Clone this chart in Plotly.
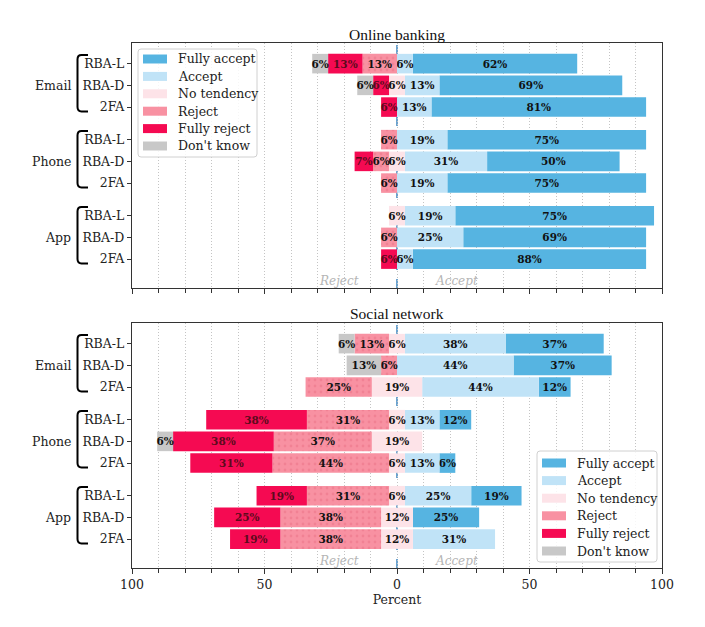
import plotly.graph_objects as go

# ---------------- data ----------------
groups = ["Email", "Phone", "App"]
methods = ["RBA-L", "RBA-D", "2FA"]
categories = ["Fully accept", "Accept", "No tendency", "Reject", "Fully reject", "Don't know"]

# rows: Email (RBA-L, RBA-D, 2FA), Phone (...), App (...)
ob_fully_accept = [62, 69, 81, 75, 50, 75, 75, 69, 88]
ob_accept       = [6, 13, 13, 19, 31, 19, 19, 25, 6]
ob_no_tendency  = [0, 6, 0, 0, 6, 0, 6, 0, 0]
ob_reject       = [13, 0, 0, 6, 6, 6, 0, 6, 0]
ob_fully_reject = [13, 6, 6, 0, 7, 0, 0, 0, 6]
ob_dont_know    = [6, 6, 0, 0, 0, 0, 0, 0, 0]

sn_fully_accept = [37, 37, 12, 12, 0, 6, 19, 25, 0]
sn_accept       = [38, 44, 44, 13, 0, 13, 25, 0, 31]
sn_no_tendency  = [6, 0, 19, 6, 19, 6, 6, 12, 12]
sn_reject       = [13, 6, 25, 31, 37, 44, 31, 38, 38]
sn_fully_reject = [0, 0, 0, 38, 38, 31, 19, 25, 19]
sn_dont_know    = [6, 13, 0, 0, 6, 0, 0, 0, 0]

x_tick_vals = [-100, -50, 0, 50, 100]
x_tick_text = ["100", "50", "0", "50", "100"]

# ---------------- styles ----------------
colors = {
    "Fully accept": "#56b4e1",
    "Accept": "#c0e3f7",
    "No tendency": "#fde3e8",
    "Reject": "#f891a2",
    "Fully reject": "#f50a52",
    "Don't know": "#c8c8c8",
}
SERIF = "DejaVu Serif"
TITLE_FONT = "Liberation Serif"
GRID = "#c4c4c4"
GRID_DASH = "1px,2px"

W, H = 705, 627
ML, MR, MT, MB = 132, 43, 43, 59
PW = W - ML - MR
PH = H - MT - MB


def px_x(p):
    return (p - ML) / PW


def px_y(p):
    return (H - MB - p) / PH


row_pos = []
for gi in range(len(groups)):
    for mi in range(len(methods)):
        row_pos.append(gi * 3.5 + mi)

fig = go.Figure()


def add_panel(vals, xa, ya):
    fa, ac, nt, rj, fr, dk = vals
    half = [v / 2 for v in nt]
    b_nt = [-h for h in half]
    b_rj = [-h - r for h, r in zip(half, rj)]
    b_fr = [b - f for b, f in zip(b_rj, fr)]
    b_dk = [b - d for b, d in zip(b_fr, dk)]
    b_ac = half[:]
    b_fa = [h + a for h, a in zip(half, ac)]
    spec = [
        ("Fully accept", fa, b_fa),
        ("Accept", ac, b_ac),
        ("No tendency", nt, b_nt),
        ("Reject", rj, b_rj),
        ("Fully reject", fr, b_fr),
        ("Don't know", dk, b_dk),
    ]
    for name, v, b in spec:
        marker = dict(color=colors[name], line=dict(width=0))
        if name == "Reject":
            marker["pattern"] = dict(shape=".", fgcolor="#e97286", size=6, solidity=0.18)
        tcol = "#5c0a1c" if name == "Fully reject" else "#111111"
        fig.add_trace(go.Bar(
            x=v, base=b, y=row_pos, orientation="h", width=0.9,
            name=name, showlegend=False, marker=marker,
            text=[f"{x}%" if x > 0 else "" for x in v],
            textposition="inside", insidetextanchor="middle",
            textangle=0, constraintext="none", cliponaxis=False,
            textfont=dict(family=SERIF, size=10.5, color=tcol, weight="bold"),
            xaxis=xa, yaxis=ya, hoverinfo="skip",
        ))


add_panel([ob_fully_accept, ob_accept, ob_no_tendency, ob_reject, ob_fully_reject, ob_dont_know], "x", "y")
add_panel([sn_fully_accept, sn_accept, sn_no_tendency, sn_reject, sn_fully_reject, sn_dont_know], "x2", "y2")

YR = [10.33, -0.95]
top_dom = [(PH - 245) / PH, 1.0]
bot_dom = [0.0, 245 / PH]

xcommon = dict(
    range=[-100, 100], tickmode="array", tickvals=x_tick_vals, ticktext=x_tick_text,
    showgrid=True, gridcolor=GRID, griddash=GRID_DASH, gridwidth=1,
    zeroline=False, showline=True, linecolor="#333333", linewidth=1.3, mirror=True,
    ticks="outside", ticklen=5, tickcolor="#333333", tickwidth=1.2,
    tickfont=dict(family=SERIF, size=12.5, color="#222"),
    minor=dict(tickmode="linear", tick0=0, dtick=10, showgrid=True, gridcolor=GRID,
               griddash=GRID_DASH, gridwidth=1, ticks="outside", ticklen=4, tickcolor="#333333"),
    fixedrange=True,
)
ycommon = dict(
    range=YR, tickmode="array", tickvals=row_pos, ticktext=methods * 3,
    showgrid=False, zeroline=False, showline=True, linecolor="#333333", linewidth=1.3,
    mirror=True, ticks="outside", ticklen=4, tickcolor="#333333",
    tickfont=dict(family=SERIF, size=12.5, color="#222"),
)

fig.update_layout(
    width=W, height=H, margin=dict(l=ML, r=MR, t=MT, b=MB),
    paper_bgcolor="white", plot_bgcolor="white",
    barmode="overlay", showlegend=False,
    xaxis=dict(**xcommon, anchor="y", domain=[0, 1], showticklabels=False),
    yaxis=dict(**ycommon, anchor="x", domain=top_dom),
    xaxis2=dict(**xcommon, anchor="y2", domain=[0, 1],
                title=dict(text="Percent", font=dict(family=SERIF, size=12.5, color="#222"), standoff=4)),
    yaxis2=dict(**ycommon, anchor="x2", domain=bot_dom),
    font=dict(family=SERIF, color="#222"),
)

shapes = []
annotations = []

# center dashed line
for ya in ["y", "y2"]:
    shapes.append(dict(type="line", xref="x" if ya == "y" else "x2", yref=f"{ya} domain",
                       x0=0, x1=0, y0=0, y1=1, layer="below",
                       line=dict(color="#3d85c0", width=1.5, dash="dash")))

# titles
annotations.append(dict(text="Online banking", xref="paper", yref="paper", x=0.5, y=px_y(34),
                        showarrow=False, font=dict(family=TITLE_FONT, size=15.5, color="#111"),
                        yanchor="middle"))
annotations.append(dict(text="Social network", xref="paper", yref="paper", x=0.5, y=px_y(313),
                        showarrow=False, font=dict(family=TITLE_FONT, size=15.5, color="#111"),
                        yanchor="middle"))

# reject / accept hints
for xa, ya in [("x", "y"), ("x2", "y2")]:
    annotations.append(dict(text="<i>Reject</i>", xref=xa, yref=ya, x=-22, y=10.0, showarrow=False,
                            font=dict(family=SERIF, size=12, color="#b5b5b5")))
    annotations.append(dict(text="<i>Accept</i>", xref=xa, yref=ya, x=22.5, y=10.0, showarrow=False,
                            font=dict(family=SERIF, size=12, color="#b5b5b5")))

# group brackets and labels
bx0 = px_x(77.5)
bx1 = px_x(88)
rx = 4 / PW
for ya in ["y", "y2"]:
    for gi, g in enumerate(groups):
        g0 = gi * 3.5
        yt, yb = g0 - 0.4, g0 + 2.2
        ry = 0.2
        path = (f"M {bx1},{yt} L {bx0 + rx},{yt} Q {bx0},{yt} {bx0},{yt + ry} "
                f"L {bx0},{yb - ry} Q {bx0},{yb} {bx0 + rx},{yb} L {bx1},{yb}")
        shapes.append(dict(type="path", xref="paper", yref=ya, path=path,
                           line=dict(color="black", width=2)))
        annotations.append(dict(text=g, xref="paper", yref=ya, x=px_x(73), y=g0 + 1,
                                xanchor="right", yanchor="middle", showarrow=False,
                                font=dict(family=SERIF, size=12.5, color="#222")))


# custom legends
def rounded_rect(x0p, y0p, x1p, y1p, r=3):
    X0, X1 = px_x(x0p), px_x(x1p)
    Y0, Y1 = px_y(y0p), px_y(y1p)  # Y0 top (larger), Y1 bottom
    rxp, ryp = r / PW, r / PH
    return (f"M {X0 + rxp},{Y0} L {X1 - rxp},{Y0} Q {X1},{Y0} {X1},{Y0 - ryp} "
            f"L {X1},{Y1 + ryp} Q {X1},{Y1} {X1 - rxp},{Y1} L {X0 + rxp},{Y1} "
            f"Q {X0},{Y1} {X0},{Y1 + ryp} L {X0},{Y0 - ryp} Q {X0},{Y0} {X0 + rxp},{Y0} Z")


def add_legend(box, patch_x, text_x, first_y, step):
    shapes.append(dict(type="path", xref="paper", yref="paper", path=rounded_rect(*box),
                       fillcolor="rgba(255,255,255,0.85)", line=dict(color="#d0d0d0", width=1)))
    for i, c in enumerate(categories):
        cy = first_y + i * step
        shapes.append(dict(type="rect", xref="paper", yref="paper",
                           x0=px_x(patch_x[0]), x1=px_x(patch_x[1]),
                           y0=px_y(cy - 4.5), y1=px_y(cy + 4.5),
                           fillcolor=colors[c], line=dict(width=0)))
        annotations.append(dict(text=c, xref="paper", yref="paper", x=px_x(text_x), y=px_y(cy),
                                xanchor="left", yanchor="middle", showarrow=False,
                                font=dict(family=SERIF, size=12.5, color="#222")))


add_legend((138, 49, 257, 157), (143, 167), 176, 59, 17.4)
add_legend((537, 451, 657, 562), (542, 566), 575, 463, 17.6)

fig.update_layout(shapes=shapes, annotations=annotations)

fig.write_html("out.html")
